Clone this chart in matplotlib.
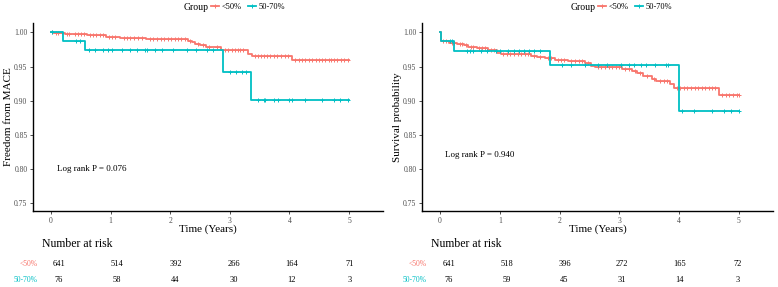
import numpy as np
import matplotlib
matplotlib.use("Agg")
from matplotlib import pyplot as plt
from matplotlib.lines import Line2D

plt.rcParams['font.family'] = ['Liberation Serif', 'DejaVu Serif']

RED = '#F8766D'
TEAL = '#00BFC4'
groups = ['<50%', '50-70%']

# ---- left panel (MACE) ----
mace_red_t = [0.04, 0.23, 0.35, 0.6, 0.93, 1.16, 1.6, 2.3, 2.36, 2.42, 2.5, 2.6, 2.72, 2.86, 3.3, 3.37, 4.05]
mace_red_s = [0.9985, 0.998, 0.997, 0.996, 0.993, 0.9915, 0.990, 0.988, 0.9855, 0.983, 0.981, 0.979, 0.978, 0.9745, 0.968, 0.9657, 0.960]
mace_red_cens = [0.02, 0.08, 0.12, 0.18, 0.27, 0.31, 0.4, 0.45, 0.5, 0.55, 0.66, 0.7, 0.76, 0.82, 0.87,
                 0.98, 1.03, 1.08, 1.22, 1.27, 1.33, 1.4, 1.46, 1.52, 1.67, 1.72, 1.78, 1.84, 1.9, 1.96,
                 2.02, 2.08, 2.13, 2.18, 2.25, 2.33, 2.47, 2.55, 2.66, 2.78, 2.92, 2.97, 3.03, 3.08,
                 3.13, 3.18, 3.23, 3.42, 3.47, 3.52, 3.57, 3.63, 3.68, 3.74, 3.8, 3.86, 3.92, 3.98,
                 4.1, 4.16, 4.21, 4.27, 4.33, 4.38, 4.44, 4.5, 4.55, 4.6, 4.66, 4.7, 4.74, 4.8, 4.86, 4.92, 4.99]
mace_teal_t = [0.21, 0.57, 2.88, 3.35]
mace_teal_s = [0.9868, 0.9737, 0.9414, 0.9012]
mace_teal_cens = [0.02, 0.42, 0.49, 0.64, 0.74, 0.87, 0.96, 1.02, 1.2, 1.33, 1.44, 1.58, 1.62, 1.75, 1.87,
                  2.05, 2.28, 2.44, 2.61, 2.72, 3.01, 3.11, 3.2, 3.27, 3.48, 3.57, 3.59, 3.74, 3.81,
                  4.0, 4.04, 4.26, 4.54, 4.74, 4.85, 4.99]
mace_risk_red = [641, 514, 392, 266, 164, 71]
mace_risk_teal = [76, 58, 44, 30, 12, 3]

# ---- right panel (survival) ----
surv_red_t = [0.01, 0.02, 0.15, 0.28, 0.4, 0.47, 0.62, 0.8, 0.96, 1.02, 1.52, 1.63, 1.75, 1.92, 2.14,
              2.42, 2.53, 2.6, 3.04, 3.22, 3.3, 3.4, 3.54, 3.62, 3.85, 3.92, 4.67]
surv_red_s = [0.994, 0.988, 0.985, 0.983, 0.981, 0.979, 0.977, 0.9745, 0.9705, 0.968, 0.966, 0.9645, 0.962,
              0.9598, 0.9575, 0.9545, 0.9505, 0.949, 0.9466, 0.9436, 0.940, 0.936, 0.932, 0.9294, 0.9245,
              0.918, 0.908]
surv_red_cens = [0.05, 0.1, 0.2, 0.24, 0.33, 0.37, 0.44, 0.52, 0.56, 0.66, 0.7, 0.75, 0.85, 0.9, 1.06,
                 1.12, 1.18, 1.24, 1.3, 1.36, 1.42, 1.48, 1.57, 1.68, 1.8, 1.86, 1.97, 2.03, 2.08, 2.2,
                 2.26, 2.32, 2.37, 2.47, 2.65, 2.7, 2.76, 2.82, 2.88, 2.94, 2.99, 3.1, 3.16, 3.26, 3.35,
                 3.46, 3.58, 3.68, 3.74, 3.8, 3.96, 4.02, 4.08, 4.14, 4.2, 4.26, 4.32, 4.38, 4.44, 4.5,
                 4.55, 4.6, 4.72, 4.78, 4.84, 4.9, 4.96, 5.0]
surv_teal_t = [0.02, 0.23, 1.84, 4.0]
surv_teal_s = [0.9868, 0.9735, 0.9525, 0.885]
surv_teal_cens = [0.17, 0.2, 0.45, 0.5, 0.56, 0.68, 0.79, 0.93, 1.01, 1.14, 1.24, 1.32, 1.41, 1.49, 1.58,
                  1.68, 2.04, 2.2, 2.42, 2.65, 2.8, 3.03, 3.17, 3.25, 3.36, 3.45, 3.59, 3.78, 3.81,
                  4.05, 4.25, 4.55, 4.75, 4.86, 5.0]
surv_risk_red = [641, 518, 396, 272, 165, 72]
surv_risk_teal = [76, 59, 45, 31, 14, 3]

risk_times = [0, 1, 2, 3, 4, 5]
t_end = 5.0


def km_step(times, surv):
    t = np.concatenate([[0.0], times, [t_end]])
    s = np.concatenate([[1.0], surv, [surv[-1]]])
    return t, s


def surv_at(times, surv, q):
    idx = np.searchsorted(np.asarray(times), np.asarray(q), side='right')
    s = np.concatenate([[1.0], surv])
    return s[idx]


W, H = 778, 287
fig = plt.figure(figsize=(W / 100, H / 100), dpi=100)


def fx(px):
    return px / W


def fy(py):
    return 1 - py / H


def panel(x0, x1, ylabel, red, teal, pval, pval_xy, risk_red, risk_teal, tab_x0, tab_w, leg_x):
    ax = fig.add_axes([fx(x0), fy(211), fx(x1 - x0), fy(23) - fy(211)])
    for (tt, ss, cens), col in zip([red, teal], [RED, TEAL]):
        t, s = km_step(tt, ss)
        ax.step(t, s, where='post', color=col, lw=1.3)
        ax.plot(cens, surv_at(tt, ss, cens), '+', color=col, ms=3.5, mew=0.7)
    ax.set_xlim(-0.3, 5.57)
    ax.set_ylim(0.7385, 1.0138)
    ax.set_xticks(risk_times)
    ax.set_yticks([0.75, 0.80, 0.85, 0.90, 0.95, 1.00])
    ax.set_yticklabels(['0.75', '0.80', '0.85', '0.90', '0.95', '1.00'])
    for sp in ['top', 'right']:
        ax.spines[sp].set_visible(False)
    for sp in ['left', 'bottom']:
        ax.spines[sp].set_linewidth(1.0)
    ax.tick_params(labelsize=5.5, labelcolor='#4d4d4d', color='#333333', length=2, width=0.6, pad=2)
    ax.set_ylabel(ylabel, fontsize=8, labelpad=1)
    ax.set_xlabel('Time (Years)', fontsize=8, labelpad=0)
    ax.text(pval_xy[0], pval_xy[1], pval, fontsize=6.5, ha='left', va='center')

    # legend
    fig.text(fx(leg_x), fy(7), 'Group', fontsize=7, ha='left', va='center')
    handles = [Line2D([], [], color=c, lw=1.3, marker='+', ms=3.5, mew=0.7) for c in [RED, TEAL]]
    fig.legend(handles, groups, ncol=2, frameon=False, fontsize=6,
               loc='center left', bbox_to_anchor=(fx(leg_x + 27), fy(7)),
               handlelength=1.0, handletextpad=0.3, columnspacing=0.7, borderaxespad=0,
               borderpad=0)

    # risk table
    tab = fig.add_axes([fx(tab_x0), fy(287), fx(tab_w), fy(236) - fy(287)])
    tab.set_xlim(-0.3, 5.57)
    tab.set_ylim(287, 236)
    tab.axis('off')
    for t, n in zip(risk_times, risk_red):
        tab.text(t, 264, str(n), fontsize=6, ha='center', va='center')
    for t, n in zip(risk_times, risk_teal):
        tab.text(t, 280, str(n), fontsize=6, ha='center', va='center')
    return ax


panel(33, 383, 'Freedom from MACE',
      (mace_red_t, mace_red_s, mace_red_cens), (mace_teal_t, mace_teal_s, mace_teal_cens),
      'Log rank P = 0.076', (0.1, 0.80), mace_risk_red, mace_risk_teal, 41.5, 341.6, 184)
panel(422, 773, 'Survival probability',
      (surv_red_t, surv_red_s, surv_red_cens), (surv_teal_t, surv_teal_s, surv_teal_cens),
      'Log rank P = 0.940', (0.09, 0.82), surv_risk_red, surv_risk_teal, 431.7, 338.7, 571)

# risk table titles and row labels
for tx, lx in [(42, 38), (431, 427)]:
    fig.text(fx(tx), fy(244), 'Number at risk', fontsize=8.5, ha='left', va='center')
    fig.text(fx(lx), fy(264), groups[0], fontsize=5.5, color=RED, ha='right', va='center')
    fig.text(fx(lx), fy(280), groups[1], fontsize=5.5, color=TEAL, ha='right', va='center')

fig.savefig('out.png', dpi=100)
